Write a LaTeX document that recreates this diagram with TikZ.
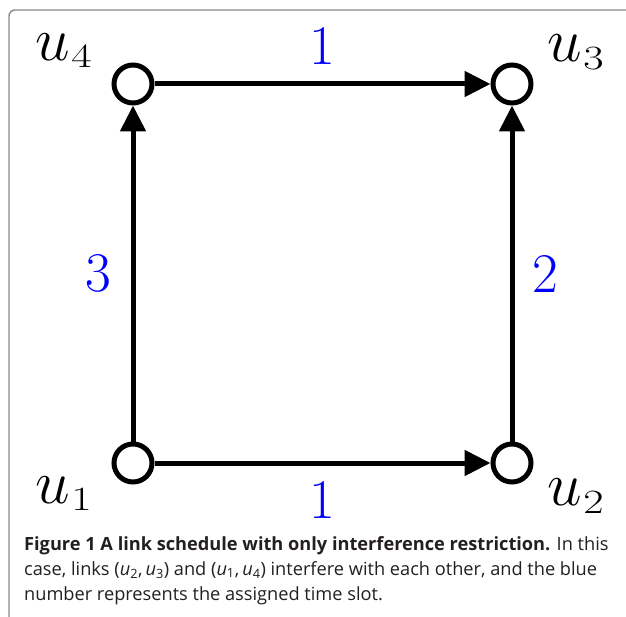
\documentclass[tikz,border=0pt]{standalone}
\usepackage{fix-cm}
\usepackage{graphicx}
\usepackage{fontspec}
\setsansfont{Open Sans}
\usepackage{tikz}
\usetikzlibrary{arrows.meta}
\definecolor{cFrame}{HTML}{8A8A8A}
\definecolor{cText}{HTML}{231F20}
\newcommand{\vlabel}[2]{$u$\kern1.5pt\raisebox{-#2pt}{\scalebox{1.3}[1]{\fontsize{34}{34}\selectfont #1}}}

\begin{document}
\begin{tikzpicture}[
  x=1pt, y=-1pt,
  vtx/.style={circle, draw=black, fill=white, line width=5pt, minimum size=38pt, inner sep=0pt},
  link/.style={-{Triangle[length=26pt, width=25pt]}, draw=black, line width=5pt},
  slot/.style={text=blue, font=\fontsize{56}{56}\selectfont, inner sep=0pt},
  lbl/.style={anchor=base west, inner sep=0pt, font=\fontsize{62}{62}\selectfont},
  captext/.style={anchor=north west, inner sep=0pt, align=left, text=cText,
              font=\sffamily\fontsize{18.2}{25}\selectfont},
]
\useasboundingbox (0,0) rectangle (626,617);
\draw[cFrame, line width=1.4pt, rounded corners=6pt] (9,617) -- (9,10) -- (626,10);

\node[vtx] (u1) at (133,463) {};
\node[vtx] (u2) at (512,463) {};
\node[vtx] (u3) at (512,84) {};
\node[vtx] (u4) at (133,84) {};

\node[lbl] (l1) at (35,503) {\vlabel{1}{7}};
\node[lbl] (l2) at (547,505) {\vlabel{2}{8}};
\node[lbl] (l3) at (547,62) {\vlabel{3}{8}};
\node[lbl] (l4) at (35,61) {\vlabel{4}{7}};

\draw[link] (u1) -- (u2);
\draw[link] (u2) -- (u3);
\draw[link] (u4) -- (u3);
\draw[link] (u1) -- (u4);

\node[slot] (t12) at (322,500) {1};
\node[slot] (t23) at (545,274) {2};
\node[slot] (t43) at (322,46) {1};
\node[slot] (t14) at (98,273) {3};

\node[captext] (cap) at (24,536) {\textbf{Figure 1 A link schedule with only interference restriction.} In this\\
case, links (\textit{u}\textsubscript{2},\,\textit{u}\textsubscript{3}) and (\textit{u}\textsubscript{1},\,\textit{u}\textsubscript{4}) interfere with each other, and the blue\\
number represents the assigned time slot.};
\end{tikzpicture}
\end{document}
